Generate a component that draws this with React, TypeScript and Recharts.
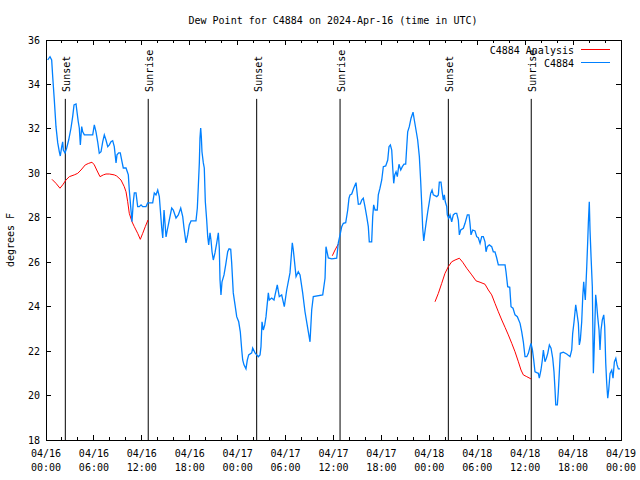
import React from "react";
import { LineChart, Line, XAxis, YAxis, ReferenceLine, ReferenceArea } from "recharts";

// ---------- data ----------
const obsHours = [
  0.21,0.50,0.71,0.84,1.04,1.25,1.47,1.67,1.79,1.97,
  2.09,2.17,2.38,2.59,2.84,3.13,3.34,3.51,3.76,3.88,
  4.04,4.17,4.30,4.47,4.60,4.80,5.85,6.05,6.26,6.47,
  6.67,6.89,7.10,7.30,7.51,7.73,7.93,8.14,8.35,8.55,
  8.77,8.89,9.10,9.30,9.52,9.68,10.02,10.31,10.43,10.64,
  10.77,10.93,11.06,11.27,11.48,11.68,11.90,12.11,12.52,12.73,
  13.36,13.56,13.77,13.99,14.19,14.49,14.62,14.78,14.90,15.03,
  15.19,15.44,15.74,15.94,16.28,16.57,16.87,17.12,17.28,17.53,
  17.74,17.94,18.16,18.78,18.95,19.07,19.20,19.28,19.37,19.45,
  19.53,19.70,19.82,19.95,20.12,20.25,20.37,20.54,20.66,20.79,
  20.95,21.16,21.38,21.58,21.70,21.79,21.91,22.04,22.29,22.50,
  22.75,22.92,23.13,23.25,23.45,23.67,23.88,24.13,24.33,24.51,
  24.63,24.79,25.04,25.21,25.38,25.76,25.88,26.17,26.59,26.80,
  26.92,27.05,27.21,27.39,27.55,27.67,27.84,27.96,28.26,28.55,
  28.96,29.21,29.51,29.84,30.14,30.55,30.84,30.97,31.31,31.59,
  31.81,32.14,32.43,32.85,33.06,33.27,33.47,34.65,34.94,35.06,
  35.22,35.35,35.78,36.40,36.60,36.82,37.03,37.23,37.53,37.78,
  37.94,38.07,38.28,38.53,38.82,38.98,39.11,39.36,39.53,39.73,
  39.94,40.16,40.36,40.48,40.78,40.91,41.03,41.20,41.48,41.61,
  41.82,42.04,42.24,42.54,42.79,42.95,43.12,43.29,43.42,43.54,
  43.67,43.83,43.99,44.20,44.42,44.62,44.83,45.04,45.17,45.29,
  45.49,45.71,45.96,46.12,46.33,46.54,46.75,46.92,47.05,47.17,
  47.30,47.42,47.59,47.80,48.00,48.17,48.34,48.50,48.93,49.13,
  49.25,49.46,49.63,49.75,49.88,50.00,50.18,50.25,50.43,50.59,
  50.80,51.00,51.22,51.43,51.63,51.76,51.93,52.26,52.47,52.76,
  52.97,53.09,53.22,53.43,53.72,53.93,54.13,54.35,54.56,54.76,
  54.97,55.10,55.26,55.51,55.81,56.01,56.22,56.43,56.64,57.48,
  57.60,57.81,58.07,58.23,58.48,58.73,59.02,59.36,59.57,59.77,
  59.98,60.20,60.40,60.61,60.73,60.90,61.07,61.23,61.45,61.65,
  61.77,61.98,62.15,62.28,62.48,62.65,62.83,63.03,63.24,63.45,
  63.61,63.74,63.83,64.03,64.15,64.28,64.40,64.78,65.20,65.62,
  65.83,65.95,66.12,66.33,66.46,66.66,66.78,66.91,67.08,67.21,
  67.33,67.41,67.53,67.71,67.83,67.91,68.03,68.12,68.25,68.41,
  68.54,68.66,68.83,68.96,69.08,69.25,69.37,69.50,69.66,69.84,
  69.96,70.09,70.21,70.34,70.46,70.63,70.84,71.00,71.17,71.35,
  71.51,71.67,71.88,
];

const obsDew = [
  35.10,35.25,35.10,34.35,33.30,32.10,31.37,30.97,30.78,31.20,
  31.42,31.05,30.92,31.14,31.50,32.04,32.55,33.08,33.12,32.77,
  32.32,32.04,31.28,32.10,31.87,31.73,31.73,32.18,31.87,31.42,
  30.90,30.97,31.42,31.73,31.50,31.20,31.28,31.42,31.47,31.20,
  30.47,30.83,30.92,30.92,30.52,30.24,30.24,29.93,29.25,28.35,
  27.82,28.72,29.12,29.12,28.50,28.50,28.58,28.50,28.50,28.67,
  28.67,29.12,29.03,29.25,28.95,27.54,27.09,28.35,27.77,27.14,
  27.45,27.90,28.44,28.35,27.99,28.13,28.44,28.05,27.54,26.87,
  27.23,27.68,27.86,27.86,28.44,29.40,30.47,31.59,32.04,31.65,
  30.97,30.47,30.24,28.72,27.90,27.15,26.78,27.32,27.00,26.47,
  26.10,26.42,26.87,27.32,26.64,25.20,24.53,25.12,25.43,25.88,
  26.47,26.60,26.58,25.97,24.62,24.08,23.55,23.32,22.87,22.05,
  21.60,21.38,21.20,21.60,21.83,21.92,22.14,21.92,21.75,21.83,
  22.20,23.32,22.95,23.18,23.55,24.00,24.62,24.30,24.39,24.30,
  24.98,24.45,24.53,24.00,24.75,25.52,26.87,26.55,25.35,25.57,
  25.43,24.62,23.77,22.87,22.42,23.85,24.45,24.53,25.28,26.70,
  26.42,26.19,26.15,26.18,26.87,27.23,27.60,27.75,27.78,28.35,
  28.88,29.03,29.07,29.33,29.58,29.03,28.61,28.62,28.80,28.88,
  28.50,28.05,27.60,26.92,26.92,28.05,28.58,28.35,28.35,29.03,
  29.33,29.70,30.30,30.33,30.60,31.20,31.28,31.05,30.23,29.55,
  29.93,30.07,29.85,30.41,30.15,30.30,30.41,30.41,31.20,31.87,
  32.10,32.48,32.75,32.40,31.95,31.50,30.75,29.62,28.58,27.53,
  26.96,27.30,27.75,28.27,28.72,29.10,29.25,29.03,28.95,29.03,
  29.60,29.60,29.10,28.80,29.03,28.72,28.50,28.13,27.98,28.13,
  27.82,28.13,28.20,28.20,27.90,27.23,27.45,27.53,27.75,28.13,
  28.13,27.75,27.23,27.45,27.41,27.15,27.10,26.85,27.15,27.15,
  26.92,26.47,26.70,26.78,26.70,26.47,26.47,26.20,25.88,25.88,
  25.57,24.90,24.87,24.00,23.93,23.63,23.55,23.25,22.87,22.42,
  21.75,21.75,21.90,22.20,22.35,22.08,21.60,21.07,21.03,21.00,
  20.78,21.15,21.60,22.05,21.52,21.68,21.90,22.28,22.13,21.68,
  21.07,20.25,19.58,19.58,20.17,21.07,21.90,21.95,21.87,21.75,
  22.05,22.80,23.32,24.08,23.77,23.25,22.28,22.50,23.32,24.45,
  25.12,24.75,24.30,25.80,26.92,27.75,28.72,27.45,26.25,24.90,
  21.00,22.35,24.53,24.08,23.55,22.95,22.05,22.95,23.40,23.63,
  23.10,21.45,20.55,19.88,20.25,21.00,21.15,20.78,21.52,21.68,
  21.38,21.20,21.20,
];

// Analysis series; null marks a gap between nights
const anaHours = [
  0.75,1.25,1.75,2.09,2.50,2.92,3.54,3.97,4.38,4.92,
  5.35,5.76,6.05,6.35,6.76,7.18,7.51,7.93,8.55,8.85,
  9.39,9.80,10.02,10.23,10.43,10.77,11.06,11.48,11.81,12.11,
  12.43,12.77,
  20,
  35.85,36.19,36.60,
  45,
  48.71,49.13,49.55,49.96,50.38,50.80,51.22,51.76,52.18,52.68,
  53.31,53.85,54.35,54.97,55.39,55.81,56.22,56.64,57.07,57.48,
  57.89,58.32,58.73,59.15,59.48,59.77,60.20,60.73,
];
const anaDew: (number | null)[] = [
  29.73,29.55,29.33,29.48,29.70,29.85,29.93,30.00,30.15,30.38,
  30.45,30.50,30.38,30.15,29.85,29.93,29.97,29.97,29.93,29.88,
  29.70,29.40,29.17,28.72,28.20,27.82,27.60,27.30,27.03,27.30,
  27.60,27.90,
  null,
  26.29,26.55,26.82,
  null,
  24.22,24.60,25.05,25.50,25.80,26.02,26.10,26.18,26.00,25.73,
  25.43,25.16,25.10,25.01,24.75,24.53,24.15,23.77,23.40,23.07,
  22.73,22.35,21.97,21.52,21.15,20.93,20.85,20.75,
];

const sunsetHours = [2.42, 26.38, 50.38];
const sunriseHours = [12.80, 36.82, 60.76];
const sunLineTop = 33.35;

const xTickHours = [0, 6, 12, 18, 24, 30, 36, 42, 48, 54, 60, 66, 72];
const xTickDates = ["04/16","04/16","04/16","04/16","04/17","04/17","04/17","04/17","04/18","04/18","04/18","04/18","04/19"];
const xTickTimes = ["00:00","06:00","12:00","18:00","00:00","06:00","12:00","18:00","00:00","06:00","12:00","18:00","00:00"];
const xMinorStep = 2;
const yTicks = [18, 20, 22, 24, 26, 28, 30, 32, 34, 36];

const titleText = "Dew Point for C4884 on 2024-Apr-16 (time in UTC)";
const yLabelText = "degrees F";
const seriesNames = ["C4884 Analysis", "C4884"];
const RED = "#ff0000";
const BLUE = "#0080ff";

// ---------- derived tables ----------
const n = Math.min(obsHours.length, obsDew.length);
const obsData = obsHours.slice(0, n).map((t, i) => ({ t, v: obsDew[i] }));
const anaData = anaHours.map((t, i) => ({ t, v: anaDew[i] }));
const allXTicks: number[] = [];
for (let h = 0; h <= 72; h += xMinorStep) allXTicks.push(h);

const FONT = "'DejaVu Sans Mono', 'Liberation Mono', monospace";

const BottomTick = (props: any) => {
  const { x, y, payload } = props;
  const v = payload.value as number;
  const idx = xTickHours.indexOf(v);
  const major = idx >= 0;
  return (
    <g>
      <line x1={x} x2={x} y1={y} y2={y - (major ? 5 : 3)} stroke="#000" shapeRendering="crispEdges" />
      {major && (
        <text x={x} y={y + 17} textAnchor="middle" fontFamily={FONT} fontSize={10} fill="#000">
          {xTickDates[idx]}
        </text>
      )}
      {major && (
        <text x={x} y={y + 31} textAnchor="middle" fontFamily={FONT} fontSize={10} fill="#000">
          {xTickTimes[idx]}
        </text>
      )}
    </g>
  );
};

const TopTick = (props: any) => {
  const { x, y, payload } = props;
  const major = xTickHours.indexOf(payload.value) >= 0;
  return <line x1={x} x2={x} y1={y} y2={y + (major ? 5 : 3)} stroke="#000" shapeRendering="crispEdges" />;
};

const LeftTick = (props: any) => {
  const { x, y, payload } = props;
  return (
    <g>
      <line x1={x} x2={x + 5} y1={y} y2={y} stroke="#000" shapeRendering="crispEdges" />
      <text x={x - 6} y={y + 3.5} textAnchor="end" fontFamily={FONT} fontSize={10} fill="#000">
        {payload.value}
      </text>
    </g>
  );
};

const RightTick = (props: any) => {
  const { x, y } = props;
  return <line x1={x} x2={x - 5} y1={y} y2={y} stroke="#000" shapeRendering="crispEdges" />;
};

const sunLabel = (text: string) => (p: any) => {
  const vb = p.viewBox || {};
  const lx = vb.x + 5;
  const ly = vb.y - 7;
  return (
    <text
      x={lx}
      y={ly}
      transform={`rotate(-90, ${lx}, ${ly})`}
      textAnchor="start"
      fontFamily={FONT}
      fontSize={10}
      fill="#000"
    >
      {text}
    </text>
  );
};

export default function App() {
  return (
    <div style={{ position: "relative", width: 640, height: 480, background: "#fff" }}>
      <style>{`body{margin:0;background:#fff;}`}</style>
      <LineChart
        width={640}
        height={480}
        margin={{ top: 39, right: 18, bottom: 39, left: 45 }}
      >
        <XAxis
          dataKey="t"
          type="number"
          domain={[0, 72]}
          ticks={allXTicks}
          interval={0}
          height={1}
          tickSize={0}
          tickMargin={0}
          axisLine={false}
          tickLine={false}
          tick={<BottomTick />}
          allowDataOverflow
        />
        <XAxis
          xAxisId="top"
          orientation="top"
          dataKey="t"
          type="number"
          domain={[0, 72]}
          ticks={allXTicks}
          interval={0}
          height={1}
          tickSize={0}
          tickMargin={0}
          axisLine={false}
          tickLine={false}
          tick={<TopTick />}
          allowDataOverflow
        />
        <YAxis
          type="number"
          domain={[18, 36]}
          ticks={yTicks}
          interval={0}
          width={1}
          tickSize={0}
          tickMargin={0}
          axisLine={false}
          tickLine={false}
          tick={<LeftTick />}
          allowDataOverflow
        />
        <YAxis
          yAxisId="right"
          orientation="right"
          type="number"
          domain={[18, 36]}
          ticks={yTicks}
          interval={0}
          width={1}
          tickSize={0}
          tickMargin={0}
          axisLine={false}
          tickLine={false}
          tick={<RightTick />}
          allowDataOverflow
        />
        <ReferenceArea x1={0} x2={72} y1={18} y2={36} fill="none" fillOpacity={0} stroke="#000" strokeWidth={1} shapeRendering="crispEdges" />
        {sunsetHours.map((h, i) => (
          <ReferenceLine
            key={"ss" + i}
            segment={[{ x: h, y: sunLineTop }, { x: h, y: 18 }]}
            stroke="#000"
            strokeWidth={1}
            label={sunLabel("Sunset")}
          />
        ))}
        {sunriseHours.map((h, i) => (
          <ReferenceLine
            key={"sr" + i}
            segment={[{ x: h, y: sunLineTop }, { x: h, y: 18 }]}
            stroke="#000"
            strokeWidth={1}
            label={sunLabel("Sunrise")}
          />
        ))}
        <Line
          data={anaData}
          dataKey="v"
          type="linear"
          stroke={RED}
          strokeWidth={1}
          dot={false}
          connectNulls={false}
          isAnimationActive={false}
        />
        <Line
          data={obsData}
          dataKey="v"
          type="linear"
          stroke={BLUE}
          strokeWidth={1.3}
          dot={false}
          isAnimationActive={false}
        />
      </LineChart>
      <svg
        width={640}
        height={480}
        style={{ position: "absolute", left: 0, top: 0, pointerEvents: "none" }}
      >
        <text x={333} y={23.5} textAnchor="middle" fontFamily={FONT} fontSize={10} fill="#000">
          {titleText}
        </text>
        <text x={14} y={240} transform="rotate(-90, 14, 240)" textAnchor="middle" fontFamily={FONT} fontSize={10} fill="#000">
          {yLabelText}
        </text>
        <text x={574} y={53.5} textAnchor="end" fontFamily={FONT} fontSize={10} fill="#000">
          {seriesNames[0]}
        </text>
        <line x1={581} x2={610} y1={49.5} y2={49.5} stroke={RED} strokeWidth={1} />
        <text x={574} y={66.5} textAnchor="end" fontFamily={FONT} fontSize={10} fill="#000">
          {seriesNames[1]}
        </text>
        <line x1={581} x2={610} y1={62.5} y2={62.5} stroke={BLUE} strokeWidth={1} />
      </svg>
    </div>
  );
}
